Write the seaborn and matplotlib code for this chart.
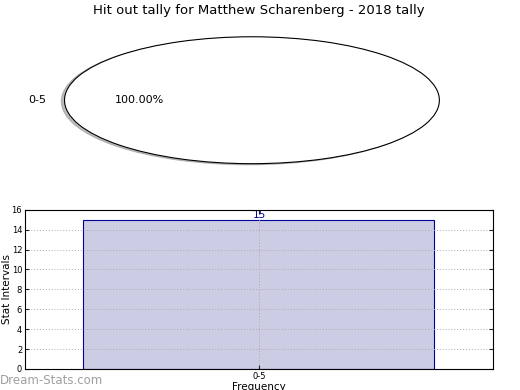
import numpy as np
import pandas as pd
import seaborn as sns
import matplotlib
matplotlib.use("Agg")
import matplotlib.pyplot as plt

title = "Hit out tally for Matthew Scharenberg - 2018 tally"
intervals = ["0-5"]
counts = [15]

sns.set_style("white")
plt.rcParams['font.family'] = ['DejaVu Sans']
plt.rcParams['text.color'] = 'black'
plt.rcParams['axes.labelcolor'] = 'black'

fig = plt.figure(figsize=(5.2, 3.9), dpi=100)

# pie on top, stretched like the old charts
ax1 = fig.add_axes([0.088, 0.564, 0.793, 0.358])
ax1.pie(counts, labels=intervals, autopct='%1.2f%%',
        shadow={'ox': -0.012, 'oy': -0.012, 'shade': 0.5},
        colors=['white'], wedgeprops={'edgecolor': 'black', 'linewidth': 0.8},
        textprops={'fontsize': 8, 'color': 'black'})
ax1.set_aspect('auto')
ax1.set_xlim(-1.1, 1.1)
ax1.set_ylim(-1.1, 1.1)
ax1.axis('off')
fig.text(0.498, 0.99, title, ha='center', va='top', fontsize=9.5)

# bar chart below
ax2 = fig.add_axes([0.048, 0.054, 0.9, 0.408])
df = pd.DataFrame({'interval': intervals, 'count': counts})
sns.barplot(data=df, x='interval', y='count', ax=ax2, width=0.75,
            color='#cccce5', edgecolor='#000099', linewidth=0.8,
            saturation=1)
ax2.set_xlim(-0.5, 0.5)
ax2.set_ylim(0, 16)
ax2.set_yticks(range(0, 17, 2))
ax2.grid(True, linestyle=(0, (1, 2)), color='#aaaaaa', linewidth=0.7)
ax2.set_axisbelow(False)
for b, c in zip(ax2.patches, counts):
    ax2.text(b.get_x() + b.get_width() / 2, c, str(c), ha='center', va='bottom',
             color='#000099', fontsize=7.5)
ax2.set_ylabel('Stat Intervals', fontsize=7.5, labelpad=0)
ax2.set_xlabel('Frequency', fontsize=7.5, labelpad=1)
ax2.tick_params(axis='both', labelsize=6, direction='in', length=3,
                left=True, right=True, bottom=True, top=True, pad=2,
                labelcolor='black')
for s in ax2.spines.values():
    s.set_color('black')
    s.set_linewidth(0.8)
    s.set_zorder(5)

fig.text(0.0, 0.025, 'Dream-Stats.com', fontsize=8.5, color='#a0a0a0',
         ha='left', va='center')

fig.savefig('out.png', dpi=100)
